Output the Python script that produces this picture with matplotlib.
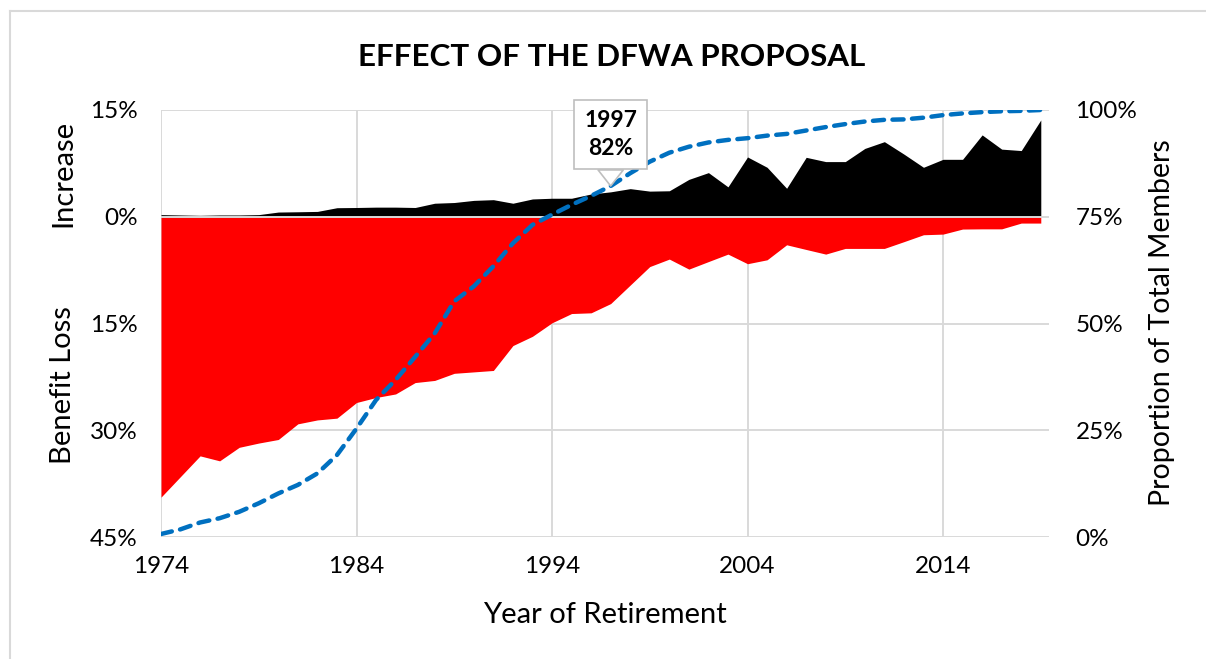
import matplotlib
matplotlib.use("Agg")
import matplotlib.pyplot as plt
from matplotlib.lines import Line2D

plt.rcParams['font.family'] = ['Lato', 'DejaVu Sans']

years = list(range(1974, 2020))

benefit_loss = [39.4, 36.5, 33.6, 34.3, 32.4, 31.8, 31.3, 29.1, 28.55, 28.3,
                26.1, 25.4, 24.9, 23.3, 23.0, 22.0, 21.8, 21.6, 18.1, 16.8,
                14.9, 13.6, 13.5, 12.2, 9.6, 7.0, 5.95, 7.36, 6.3, 5.25,
                6.6, 6.05, 3.94, 4.6, 5.25, 4.45, 4.45, 4.45, 3.5, 2.53,
                2.44, 1.73, 1.7, 1.7, 0.89, 0.89]

increase = [0.3, 0.25, 0.2, 0.25, 0.25, 0.3, 0.66, 0.7, 0.75, 1.27,
            1.3, 1.35, 1.35, 1.3, 1.9, 2.0, 2.3, 2.4, 1.9, 2.5,
            2.6, 2.6, 3.2, 3.5, 3.95, 3.6, 3.65, 5.25, 6.2, 4.2,
            8.4, 6.95, 4.0, 8.35, 7.75, 7.75, 9.6, 10.55, 8.8, 6.95,
            8.07, 8.07, 11.5, 9.5, 9.3, 13.6]

proportion = [0.7, 1.8, 3.4, 4.4, 5.9, 7.9, 10.2, 12.2, 14.9, 19.2,
              25.4, 32.1, 36.8, 42.2, 47.7, 55.2, 58.7, 63.4, 68.8, 73.1,
              75.5, 77.8, 79.9, 82.2, 85.2, 87.9, 90.0, 91.4, 92.4, 93.0,
              93.4, 94.0, 94.4, 95.2, 96.0, 96.7, 97.3, 97.7, 97.8, 98.2,
              98.8, 99.2, 99.5, 99.7, 99.8, 100.0]

left_ticks = [15, 0, -15, -30, -45]
left_labels = ["15%", "0%", "15%", "30%", "45%"]
right_ticks = [0, 25, 50, 75, 100]
right_labels = ["0%", "25%", "50%", "75%", "100%"]
x_ticks = [1974, 1984, 1994, 2004, 2014]
highlight_year = 1997

W, H = 1206, 659
fig = plt.figure(figsize=(W / 100, H / 100), dpi=100)
fig.patch.set_facecolor('white')

L, R, T, B = 161, 1049, 110, 537
ax = fig.add_axes([L / W, 1 - B / H, (R - L) / W, (B - T) / H])
ax.set_xlim(1974, 2019.42)
ax.set_ylim(-45, 15)

grid_c = '#D9D9D9'
ax.fill_between(years, 0, increase, color='black', lw=0, zorder=2)
ax.fill_between(years, 0, [-v for v in benefit_loss], color='#FF0000', lw=0, zorder=2)
ax.axhline(0, color=grid_c, lw=1.4, zorder=3)

ax.set_yticks(left_ticks)
ax.set_yticklabels(left_labels)
ax.set_xticks(x_ticks)
ax.set_xticklabels([str(x) for x in x_ticks])
ax.grid(True, color=grid_c, lw=1.4)
ax.set_axisbelow(True)
for s in ax.spines.values():
    s.set_visible(False)
ax.tick_params(axis='both', length=0, labelsize=17.5, colors='black')
ax.tick_params(axis='y', pad=17)
ax.tick_params(axis='x', pad=14)

ax2 = ax.twinx()
ax2.set_ylim(0, 100)
ax2.plot(years, proportion, color='#0070C0', lw=3.2,
         linestyle=(0, (2.5, 1.9)), dash_capstyle='round', zorder=4)
ax2.set_yticks(right_ticks)
ax2.set_yticklabels(right_labels)
for s in ax2.spines.values():
    s.set_visible(False)
ax2.tick_params(axis='y', length=0, labelsize=17.5, pad=19)

i = years.index(highlight_year)
ax2.annotate(f"{highlight_year}\n{round(proportion[i])}%",
             xy=(highlight_year, proportion[i]), xytext=(0, 37),
             textcoords='offset points', ha='center', va='center',
             fontsize=16.5, fontweight='bold', linespacing=1.4,
             bbox=dict(boxstyle='square,pad=0.45', fc='white', ec='#BFBFBF', lw=1.2),
             arrowprops=dict(arrowstyle='wedge,tail_width=1.1', fc='white',
                             ec='#BFBFBF', lw=1.2, shrinkA=0, shrinkB=0),
             zorder=6)

fig.text(612 / W, 1 - 57 / H, "EFFECT OF THE DFWA PROPOSAL", ha='center',
         va='center', fontsize=22.6, fontweight='bold')
fig.text(605 / W, 1 - 615 / H, "Year of Retirement", ha='center', va='center',
         fontsize=21)
fig.text(63 / W, 1 - 173 / H, "Increase", rotation=90, ha='center',
         va='center', fontsize=21)
fig.text(63 / W, 1 - 385 / H, "Benefit Loss", rotation=90, ha='center',
         va='center', fontsize=21)
fig.text(1162 / W, 1 - 323 / H, "Proportion of Total Members", rotation=90,
         ha='center', va='center', fontsize=20.5)

fig.add_artist(Line2D([10 / W, 10 / W], [0, 1 - 11 / H], transform=fig.transFigure,
                      color=grid_c, lw=1.5))
fig.add_artist(Line2D([10 / W, 1], [1 - 11 / H, 1 - 11 / H], transform=fig.transFigure,
                      color=grid_c, lw=1.5))

fig.savefig("out.png", dpi=100)
